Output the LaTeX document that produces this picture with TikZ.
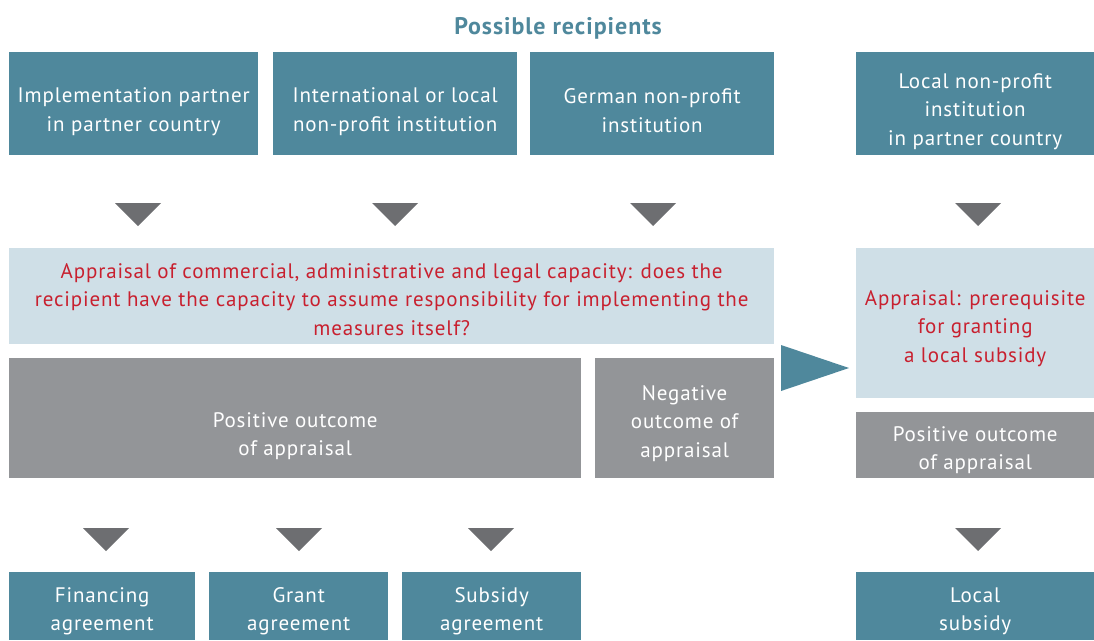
\documentclass[tikz,border=0pt]{standalone}
\usepackage{fontspec}
\setmainfont{PT Sans}[LetterSpace=4]
\usetikzlibrary{calc}
\definecolor{tealbox}{HTML}{4F889C}
\definecolor{ltblue}{HTML}{CFDFE7}
\definecolor{graybox}{HTML}{939598}
\definecolor{trigray}{HTML}{6D6E71}
\definecolor{redtxt}{HTML}{C8202F}
\begin{document}
\begin{tikzpicture}[x=1pt,y=-1pt,
  box/.style={anchor=north west, inner sep=0pt},
  tealb/.style={box, fill=tealbox},
  grayb/.style={box, fill=graybox},
  apprb/.style={box, fill=ltblue},
  txt/.style={inner sep=0pt, align=center, text=white,
    font=\fontsize{21}{28.5}\selectfont},
  redt/.style={txt, text=redtxt},
  downtri/.style={fill=trigray}]
\useasboundingbox (0,0) rectangle (1094,640);
\node[font=\bfseries\fontsize{24}{28}\selectfont, text=tealbox] (title) at (558,28) {Possible recipients};
% top row
\node[tealb, minimum width=249pt, minimum height=103pt] (t1) at (9,52) {};
\node[tealb, minimum width=244pt, minimum height=103pt] (t2) at (273,52) {};
\node[tealb, minimum width=244pt, minimum height=103pt] (t3) at (530,52) {};
\node[tealb, minimum width=238pt, minimum height=103pt] (t4) at (856,52) {};
\node[txt] (t1x) at ($(t1.center)+(0,8)$) {Implementation partner\\in partner country};
\node[txt] (t2x) at ($(t2.center)+(0,8)$) {International or local\\non-profit institution};
\node[txt] (t3x) at ($(t3.center)+(0,7)$) {German non-profit\\institution};
\node[txt] (t4x) at ($(t4.center)+(0,8)$) {Local non-profit\\institution\\in partner country};
% appraisal
\node[apprb, minimum width=765pt, minimum height=96pt] (ap) at (9,248) {};
\node[apprb, minimum width=238pt, minimum height=150pt] (apr) at (856,248) {};
\node[redt] (apx) at ($(ap.center)+(0,3)$) {Appraisal of commercial, administrative and legal capacity: does the\\recipient have the capacity to assume responsibility for implementing the\\measures itself?};
\node[redt] (aprx) at ($(apr.center)+(0,5)$) {Appraisal: prerequisite\\for granting\\a local subsidy};
% outcomes
\node[grayb, minimum width=572pt, minimum height=120pt] (pos) at (9,358) {};
\node[grayb, minimum width=179pt, minimum height=120pt] (neg) at (595,358) {};
\node[grayb, minimum width=238pt, minimum height=66pt] (posr) at (856,412) {};
\node[txt] (posx) at ($(pos.center)+(0,18)$) {Positive outcome\\of appraisal};
\node[txt] (negx) at ($(neg.center)+(0,5)$) {Negative\\outcome of\\appraisal};
\node[txt] (posrx) at ($(posr.center)+(0,5)$) {Positive outcome\\of appraisal};
% bottom
\node[tealb, minimum width=186pt, minimum height=68pt] (b1) at (9,572) {};
\node[tealb, minimum width=179pt, minimum height=68pt] (b2) at (209,572) {};
\node[tealb, minimum width=179pt, minimum height=68pt] (b3) at (402,572) {};
\node[tealb, minimum width=238pt, minimum height=68pt] (b4) at (856,572) {};
\node[txt] (b1x) at ($(b1.center)+(0,5)$) {Financing\\agreement};
\node[txt] (b2x) at ($(b2.center)+(0,5)$) {Grant\\agreement};
\node[txt] (b3x) at ($(b3.center)+(0,5)$) {Subsidy\\agreement};
\node[txt] (b4x) at ($(b4.center)+(0,5)$) {Local\\subsidy};
% down triangles
\foreach \cx/\cy in {138/203, 395/203, 653/203, 978/203, 106/528, 299/528, 491/528, 978/528}
  \fill[downtri] (\cx-23,\cy) -- (\cx+23,\cy) -- (\cx,\cy+23) -- cycle;
% teal arrow from negative outcome to local appraisal
\fill[tealbox] (781,345) -- (849,368) -- (781,391) -- cycle;
\end{tikzpicture}
\end{document}
